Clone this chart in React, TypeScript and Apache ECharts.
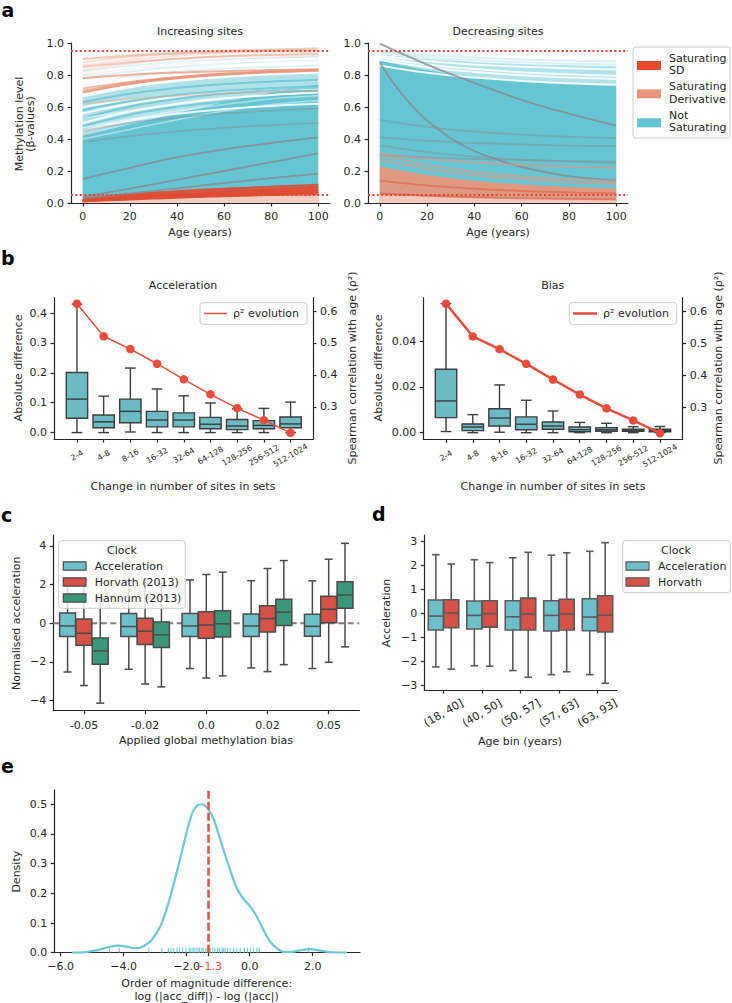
import React, { useEffect, useRef } from "react";
import * as echarts from "echarts";

const FONT = "DejaVu Sans";
const TXT = "#262626";
const AX = "#262626";
const TEAL = "#66c5d3";
const SALMON = "#e8957b";
const RED_SD = "#e5492f";
const GREY = "#8a8a8a";
const RED_LINE = "#e0463a";
const RHO_RED = "#e74c3c";
const BOX_TEAL = "#6cbac4";
const BOX_EDGE = "#3d3d3d";
const C_TEAL = "#6dbfca";
const C_RED = "#d65246";
const C_GREEN = "#3b9779";
const C_EDGE = "#4a4a4a";

// ---------- Panel a ----------
const AGES = [0, 20, 40, 60, 80, 100];
const A_XLIM = [-5, 105];
const A_XTICKS = [0, 20, 40, 60, 80, 100];
const A_YTICKS = [0, 0.2, 0.4, 0.6, 0.8, 1.0];
const THRESHOLDS = [0.05, 0.95];

const INC_FAINT_SALMON = [
  [0.86, 0.896, 0.921, 0.937, 0.948, 0.955],
  [0.83, 0.872, 0.9, 0.919, 0.932, 0.94],
  [0.9, 0.925, 0.941, 0.953, 0.96, 0.965],
  [0.8, 0.842, 0.87, 0.889, 0.902, 0.91],
];
const INC_FAINT_TEAL = [
  [0.78, 0.822, 0.85, 0.869, 0.882, 0.89],
  [0.82, 0.856, 0.881, 0.897, 0.908, 0.915],
  [0.75, 0.792, 0.82, 0.839, 0.852, 0.86],
];
const INC_LIGHT_TOP = [0.66, 0.717, 0.756, 0.781, 0.798, 0.81];
const INC_GAPS = [
  [0.45, 0.515, 0.558, 0.587, 0.607, 0.62],
  [0.5, 0.572, 0.621, 0.654, 0.675, 0.69],
  [0.56, 0.621, 0.662, 0.689, 0.708, 0.72],
  [0.6, 0.644, 0.673, 0.693, 0.706, 0.715],
  [0.75, 0.801, 0.836, 0.859, 0.875, 0.885],
  [0.81, 0.846, 0.871, 0.887, 0.898, 0.905],
];
const INC_TEAL_LINES = [
  [0.48, 0.552, 0.601, 0.634, 0.655, 0.67],
  [0.53, 0.602, 0.651, 0.684, 0.705, 0.72],
  [0.63, 0.683, 0.719, 0.743, 0.759, 0.77],
  [0.58, 0.637, 0.676, 0.701, 0.718, 0.73],
];
const INC_DENSE_TOP = [0.42, 0.49, 0.56, 0.63, 0.69, 0.74];
const INC_LATE_GAPS = [
  [0.4, 0.46, 0.52, 0.575, 0.615, 0.64],
  [0.47, 0.525, 0.575, 0.615, 0.65, 0.67],
  [0.53, 0.575, 0.615, 0.65, 0.675, 0.69],
];
const INC_DERIV = [
  [0.69, 0.743, 0.779, 0.803, 0.819, 0.83],
  [0.7, 0.751, 0.786, 0.809, 0.825, 0.835],
  [0.715, 0.757, 0.785, 0.804, 0.817, 0.825],
  [0.78, 0.801, 0.815, 0.824, 0.831, 0.835],
  [0.85, 0.88, 0.901, 0.915, 0.924, 0.93],
  [0.9, 0.921, 0.935, 0.944, 0.951, 0.955],
  [0.62, 0.65, 0.671, 0.685, 0.694, 0.7],
  [0.88, 0.912, 0.934, 0.949, 0.958, 0.965],
];
const INC_GREY = [
  [0.04, 0.09, 0.145, 0.2, 0.255, 0.31],
  [0.15, 0.22, 0.285, 0.335, 0.375, 0.41],
  [0.03, 0.06, 0.092, 0.124, 0.155, 0.183],
  [0.02, 0.042, 0.062, 0.08, 0.096, 0.11],
  [0.45, 0.5, 0.535, 0.56, 0.578, 0.59],
  [0.38, 0.418, 0.448, 0.47, 0.487, 0.5],
];
const INC_SD_TOP = [0.035, 0.06, 0.08, 0.095, 0.106, 0.115];
const INC_SD_BASE = [0.005, 0.016, 0.027, 0.036, 0.043, 0.048];
const INC_SD = [
  [0.01, 0.035, 0.055, 0.072, 0.087, 0.1],
  [0.015, 0.043, 0.066, 0.086, 0.102, 0.115],
  [0.02, 0.037, 0.051, 0.063, 0.072, 0.08],
  [0.01, 0.026, 0.039, 0.05, 0.058, 0.065],
];

const DEC_FAINT_TEAL = [
  [0.95, 0.925, 0.909, 0.897, 0.89, 0.885],
  [0.94, 0.911, 0.892, 0.879, 0.871, 0.865],
];
const DEC_LIGHT_TOP = [0.93, 0.901, 0.882, 0.869, 0.861, 0.855];
const DEC_GAPS = [
  [0.91, 0.866, 0.837, 0.817, 0.804, 0.795],
  [0.92, 0.888, 0.866, 0.851, 0.842, 0.835],
  [0.895, 0.849, 0.819, 0.798, 0.784, 0.775],
  [0.86, 0.814, 0.784, 0.763, 0.749, 0.74],
];
const DEC_DENSE_TOP = [0.89, 0.829, 0.788, 0.761, 0.742, 0.73];
const DEC_GREY = [
  [0.996, 0.865, 0.75, 0.645, 0.558, 0.483],
  [0.52, 0.476, 0.447, 0.427, 0.414, 0.405],
  [0.36, 0.318, 0.29, 0.271, 0.258, 0.25],
  [0.41, 0.389, 0.375, 0.366, 0.359, 0.355],
  [0.3, 0.285, 0.275, 0.268, 0.263, 0.26],
];
const DEC_STEEP_AGES = [0, 5, 10, 15, 20, 30, 40, 50, 60, 80, 100];
const DEC_STEEP = [0.88, 0.765, 0.67, 0.585, 0.515, 0.405, 0.325, 0.27, 0.225, 0.168, 0.142];
const DEC_DERIV_TOP = [0.23, 0.177, 0.141, 0.117, 0.101, 0.09];
const DEC_DERIV = [
  [0.3, 0.237, 0.195, 0.167, 0.148, 0.135],
  [0.27, 0.213, 0.174, 0.149, 0.132, 0.12],
  [0.31, 0.276, 0.253, 0.237, 0.227, 0.22],
  [0.18, 0.14, 0.113, 0.095, 0.083, 0.075],
];
const DEC_DERIV_BASE = [0.05, 0.039, 0.031, 0.026, 0.022, 0.02];
const DEC_SD = [
  [0.14, 0.11, 0.089, 0.075, 0.066, 0.06],
  [0.06, 0.046, 0.036, 0.029, 0.025, 0.022],
];

// ---------- Panel b ----------
const SET_LABELS = ["2-4", "4-8", "8-16", "16-32", "32-64", "64-128", "128-256", "256-512", "512-1024"];
const SET_TICKS = [0, 1, 2, 3, 4, 5, 6, 7, 8];
const RHO2 = [0.623, 0.521, 0.481, 0.435, 0.386, 0.339, 0.296, 0.258, 0.218];
const B_ACC_YTICKS = [0, 0.1, 0.2, 0.3, 0.4];
const B_BIAS_YTICKS = [0, 0.02, 0.04];
const B_RHO_TICKS = [0.3, 0.4, 0.5, 0.6];
// [min, q1, median, q3, max]
const ACC_DIFF_BOX = [
  [0.0, 0.048, 0.112, 0.201, 0.43],
  [0.0, 0.016, 0.036, 0.059, 0.122],
  [0.002, 0.033, 0.071, 0.112, 0.216],
  [0.0, 0.019, 0.042, 0.071, 0.146],
  [0.0, 0.019, 0.042, 0.066, 0.123],
  [0.0, 0.013, 0.028, 0.051, 0.099],
  [0.0, 0.01, 0.022, 0.044, 0.079],
  [0.0, 0.013, 0.024, 0.04, 0.081],
  [0.0, 0.016, 0.029, 0.052, 0.102],
];
const BIAS_DIFF_BOX = [
  [0.0005, 0.0066, 0.0139, 0.0278, 0.0565],
  [0.0, 0.0009, 0.0025, 0.0038, 0.0079],
  [0.0002, 0.0029, 0.0064, 0.0105, 0.0209],
  [0.0, 0.0013, 0.0037, 0.0069, 0.0142],
  [0.0, 0.0015, 0.0029, 0.0047, 0.0095],
  [0.0, 0.0004, 0.0013, 0.0025, 0.0045],
  [0.0, 0.0006, 0.0013, 0.0022, 0.0041],
  [0.0, 0.0006, 0.0011, 0.0015, 0.0026],
  [0.0, 0.0004, 0.001, 0.0015, 0.0027],
];

// ---------- Panel c ----------
const BIAS_LEVELS = ["-0.05", "-0.02", "0.0", "0.02", "0.05"];
const GROUP_TICKS = [0, 1, 2, 3, 4];
const C_YTICKS = [-4, -2, 0, 2, 4];
const C_ACC = [
  [-2.52, -0.69, -0.14, 0.53, 2.2],
  [-2.38, -0.69, -0.17, 0.5, 2.2],
  [-2.34, -0.69, -0.14, 0.5, 2.24],
  [-2.31, -0.69, -0.14, 0.48, 2.2],
  [-2.34, -0.67, -0.16, 0.47, 2.19],
];
const C_HORVATH = [
  [-3.22, -1.14, -0.52, 0.22, 2.25],
  [-3.14, -1.1, -0.41, 0.26, 2.3],
  [-2.83, -0.78, -0.09, 0.6, 2.52],
  [-2.5, -0.45, 0.24, 0.91, 2.83],
  [-2.02, 0.03, 0.72, 1.4, 3.31],
];
const C_HANNUM = [
  [-4.13, -2.12, -1.43, -0.76, 1.25],
  [-3.29, -1.26, -0.6, 0.07, 2.05],
  [-2.72, -0.71, -0.03, 0.65, 2.64],
  [-2.14, -0.12, 0.57, 1.24, 3.24],
  [-1.22, 0.78, 1.46, 2.14, 4.13],
];

// ---------- Panel d ----------
const AGE_BINS = ["(18, 40]", "(40, 50]", "(50, 57]", "(57, 63]", "(63, 93]"];
const D_YTICKS = [-3, -2, -1, 0, 1, 2, 3];
const D_ACC = [
  [-2.22, -0.68, -0.1, 0.57, 2.46],
  [-2.17, -0.64, -0.07, 0.53, 2.25],
  [-2.37, -0.68, -0.13, 0.54, 2.33],
  [-2.54, -0.72, -0.07, 0.54, 2.44],
  [-2.54, -0.71, -0.14, 0.62, 2.6],
];
const D_HORVATH = [
  [-2.31, -0.58, 0.03, 0.58, 2.07],
  [-2.19, -0.56, 0.0, 0.54, 2.13],
  [-2.65, -0.68, -0.01, 0.65, 2.56],
  [-2.42, -0.68, -0.01, 0.6, 2.54],
  [-2.9, -0.76, -0.06, 0.75, 2.96],
];

// ---------- Panel e ----------
const E_XTICKS = [-6, -4, -2, -1.3, 0, 2];
const E_YTICKS = [0, 0.1, 0.2, 0.3, 0.4, 0.5];
const MEDIAN_DIFF = -1.3;
const KDE_X = [-5.64, -5.28, -4.96, -4.75, -4.43, -4.16, -3.9, -3.63, -3.37, -3.11, -2.84, -2.58, -2.31, -2.1, -1.94, -1.78, -1.57, -1.45, -1.31, -1.15, -0.93, -0.62, -0.41, -0.19, 0.02, 0.23, 0.44, 0.65, 0.86, 1.07, 1.34, 1.6, 1.92, 2.24, 2.56, 3.09];
const KDE_Y = [0, 0.001, 0.006, 0.011, 0.02, 0.024, 0.02, 0.015, 0.022, 0.043, 0.088, 0.166, 0.273, 0.363, 0.43, 0.48, 0.5, 0.498, 0.483, 0.452, 0.379, 0.278, 0.217, 0.18, 0.155, 0.121, 0.076, 0.037, 0.015, 0.003, 0.003, 0.008, 0.012, 0.007, 0.002, 0];
const RUG = [-4.45, -4.14, -3.2, -2.79, -2.58, -2.5, -2.42, -2.31, -2.23, -2.13, -2.02, -1.92, -1.87, -1.8, -1.76, -1.7, -1.64, -1.59, -1.52, -1.47, -1.39, -1.33, -1.25, -1.17, -1.1, -1.02, -0.96, -0.88, -0.83, -0.78, -0.7, -0.62, -0.51, -0.41, -0.3, -0.17, -0.07, 0.02, 0.12, 0.23, 0.3, 1.87];

// ---------- helpers ----------
const minus = (s: string) => s.replace("-", "\u2212");

function vAxis(gridIndex: number, min: number, max: number, ticks: number[], fmt: (v: number) => string, extra: any = {}) {
  const { label = {}, ...rest } = extra;
  return {
    type: "value",
    gridIndex,
    min,
    max,
    axisLine: { show: true, onZero: false, lineStyle: { color: AX, width: 1.2 } },
    axisTick: { show: true, length: 3.5, lineStyle: { color: AX, width: 1.2 }, customValues: ticks },
    axisLabel: { show: true, customValues: ticks, formatter: fmt, color: TXT, fontSize: 11, fontFamily: FONT, margin: 7, ...label },
    splitLine: { show: false },
    ...rest,
  };
}

function curve(xi: number, vals: number[], color: string, opacity: number, width: number, ages: number[] = AGES) {
  return {
    type: "line",
    xAxisIndex: xi,
    yAxisIndex: xi,
    data: ages.map((a, i) => [a, vals[i]]),
    smooth: 0.4,
    symbol: "none",
    silent: true,
    lineStyle: { color, opacity, width },
    z: 2,
  };
}
function area(xi: number, vals: number[], color: string, opacity: number) {
  return {
    ...curve(xi, vals, color, 0, 0),
    lineStyle: { width: 0, opacity: 0 },
    areaStyle: { color, opacity, origin: "start" },
  };
}
function thresh(xi: number) {
  return THRESHOLDS.map((t) => ({
    type: "line",
    xAxisIndex: xi,
    yAxisIndex: xi,
    data: [[A_XLIM[0], t], [A_XLIM[1], t]],
    symbol: "none",
    silent: true,
    lineStyle: { color: RED_LINE, width: 2, type: [2, 2.4] },
    z: 5,
  }));
}

function boxes(xi: number, yi: number, rows: number[][], offset: number, width: number, fill: string, edge: string, lw: number) {
  return {
    type: "custom",
    xAxisIndex: xi,
    yAxisIndex: yi,
    silent: true,
    clip: false,
    z: 3,
    data: rows.map((r, i) => [i + offset, r[0], r[1], r[2], r[3], r[4]]),
    encode: { x: 0, y: [1, 2, 3, 4, 5] },
    renderItem: (params: any, api: any) => {
      const x = api.value(0);
      const p = [1, 2, 3, 4, 5].map((k) => api.coord([x, api.value(k)]));
      const w = api.size([width, 0])[0];
      const cx = p[0][0];
      const cap = w / 4;
      const ls = { stroke: edge, lineWidth: lw, fill: null };
      return {
        type: "group",
        children: [
          { type: "line", shape: { x1: cx, y1: p[0][1], x2: cx, y2: p[1][1] }, style: ls },
          { type: "line", shape: { x1: cx, y1: p[3][1], x2: cx, y2: p[4][1] }, style: ls },
          { type: "line", shape: { x1: cx - cap, y1: p[0][1], x2: cx + cap, y2: p[0][1] }, style: ls },
          { type: "line", shape: { x1: cx - cap, y1: p[4][1], x2: cx + cap, y2: p[4][1] }, style: ls },
          { type: "rect", shape: { x: cx - w / 2, y: p[3][1], width: w, height: p[1][1] - p[3][1] }, style: { fill, stroke: edge, lineWidth: lw } },
          { type: "line", shape: { x1: cx - w / 2, y1: p[2][1], x2: cx + w / 2, y2: p[2][1] }, style: ls },
        ],
      };
    },
  };
}

function T(text: string, x: number, y: number, o: any = {}) {
  return {
    type: "text",
    x,
    y,
    rotation: o.rot ? Math.PI / 2 : 0,
    silent: true,
    z: 100,
    style: {
      text,
      fontSize: o.size || 11,
      fontFamily: FONT,
      fontWeight: o.bold ? "bold" : "normal",
      fill: o.color || TXT,
      align: o.align || "center",
      verticalAlign: "middle",
    },
  };
}
function R(x: number, y: number, w: number, h: number, fill: string, stroke?: string, lw = 1, r = 0) {
  return { type: "rect", silent: true, z: 99, shape: { x, y, width: w, height: h, r }, style: { fill, stroke: stroke || null, lineWidth: lw } };
}
function L(x1: number, y1: number, x2: number, y2: number, color: string, w: number) {
  return { type: "line", silent: true, z: 100, shape: { x1, y1, x2, y2 }, style: { stroke: color, lineWidth: w } };
}

function buildOption() {
  const f1 = (v: number) => v.toFixed(1);
  const f2 = (v: number) => v.toFixed(2);
  const fi = (v: number) => minus(String(v));
  const grids = [
    { left: 71, top: 43, width: 259, height: 160 },
    { left: 368, top: 43, width: 260, height: 160 },
    { left: 54, top: 297.7, width: 259, height: 141.3 },
    { left: 423.3, top: 297.7, width: 259.4, height: 141.6 },
    { left: 53.3, top: 535, width: 306, height: 175.7 },
    { left: 424.3, top: 535, width: 192.4, height: 155 },
    { left: 54.3, top: 790, width: 305.7, height: 162.7 },
  ].map((g) => ({ ...g, containLabel: false, outerBoundsMode: "none" }));

  const setLbl = { fontSize: 8, rotate: 30, align: "center", verticalAlign: "middle", margin: 16.5 };
  const xAxis = [
    vAxis(0, A_XLIM[0], A_XLIM[1], A_XTICKS, (v) => String(v), { label: { margin: 8 } }),
    vAxis(1, A_XLIM[0], A_XLIM[1], A_XTICKS, (v) => String(v), { label: { margin: 8 } }),
    vAxis(2, -0.86, 8.84, SET_TICKS, (v) => SET_LABELS[Math.round(v)], { label: setLbl }),
    vAxis(3, -0.85, 8.85, SET_TICKS, (v) => SET_LABELS[Math.round(v)], { label: setLbl }),
    vAxis(4, -0.5, 4.5, GROUP_TICKS, (v) => BIAS_LEVELS[Math.round(v)], { label: { margin: 9 } }),
    vAxis(5, -0.5, 4.5, GROUP_TICKS, (v) => AGE_BINS[Math.round(v)], { label: { rotate: 30, align: "center", verticalAlign: "middle", margin: 23 } }),
    vAxis(6, -6.2, 3.5, E_XTICKS, (v) => (v === MEDIAN_DIFF ? "{r|" + minus(v.toFixed(1)) + "}" : minus(v.toFixed(1))), {
      label: { margin: 8, rich: { r: { color: RHO_RED, fontSize: 11, fontFamily: FONT } } },
    }),
  ];
  const yAxis = [
    vAxis(0, 0, 1, A_YTICKS, f1),
    vAxis(1, 0, 1, A_YTICKS, f1),
    vAxis(2, -0.0215, 0.4515, B_ACC_YTICKS, f1),
    vAxis(2, 0.199, 0.642, B_RHO_TICKS, f1, { position: "right" }),
    vAxis(3, -0.0029, 0.0591, B_BIAS_YTICKS, f2),
    vAxis(3, 0.199, 0.642, B_RHO_TICKS, f1, { position: "right" }),
    vAxis(4, -4.52, 4.56, C_YTICKS, fi),
    vAxis(5, -3.18, 3.28, D_YTICKS, fi),
    vAxis(6, 0, 0.548, E_YTICKS, f1),
  ];

  const series: any[] = [];
  // a - increasing
  series.push(...INC_FAINT_SALMON.map((v) => curve(0, v, SALMON, 0.25, 2)));
  series.push(...INC_FAINT_TEAL.map((v) => curve(0, v, TEAL, 0.22, 2)));
  series.push(area(0, INC_LIGHT_TOP, TEAL, 0.5));
  series.push(...INC_GAPS.map((v) => curve(0, v, "#ffffff", 0.85, 2)));
  series.push(...INC_TEAL_LINES.map((v) => curve(0, v, TEAL, 0.8, 2)));
  series.push(area(0, INC_DENSE_TOP, TEAL, 1));
  series.push(...INC_LATE_GAPS.map((v) => curve(0, v, "#ffffff", 0.45, 1.5)));
  const dOp = [0.9, 0.8, 0.7, 0.75, 0.5, 0.4, 0.35, 0.3];
  series.push(...INC_DERIV.map((v, i) => curve(0, v, SALMON, dOp[i], 2)));
  series.push(...INC_GREY.map((v, i) => curve(0, v, GREY, i < 4 ? 0.8 : 0.4, 1.8)));
  series.push(area(0, INC_SD_TOP, RED_SD, 0.9));
  series.push(area(0, INC_SD_BASE, "#f6cfc3", 1));
  series.push(...INC_SD.map((v) => curve(0, v, RED_SD, 0.8, 1.8)));
  series.push(...thresh(0));
  // a - decreasing
  series.push(...DEC_FAINT_TEAL.map((v) => curve(1, v, TEAL, 0.25, 2)));
  series.push(area(1, DEC_LIGHT_TOP, TEAL, 0.5));
  series.push(...DEC_GAPS.map((v) => curve(1, v, "#ffffff", 0.85, 2)));
  series.push(area(1, DEC_DENSE_TOP, TEAL, 1));
  series.push(...DEC_GREY.map((v, i) => curve(1, v, GREY, i < 1 ? 0.8 : 0.4, 1.8)));
  series.push(curve(1, DEC_STEEP, GREY, 0.8, 1.8, DEC_STEEP_AGES));
  series.push(area(1, DEC_DERIV_TOP, SALMON, 0.92));
  series.push(...DEC_DERIV.map((v) => curve(1, v, SALMON, 0.6, 2)));
  series.push(area(1, DEC_DERIV_BASE, "#f4c9ba", 1));
  series.push(...DEC_SD.map((v) => curve(1, v, RED_SD, 0.45, 1.8)));
  series.push(...thresh(1));

  // b
  series.push(boxes(2, 2, ACC_DIFF_BOX, 0, 0.8, BOX_TEAL, BOX_EDGE, 1.4));
  series.push({
    type: "line", xAxisIndex: 2, yAxisIndex: 3, data: RHO2.map((v, i) => [i, v]), symbol: "circle", symbolSize: 8.5,
    lineStyle: { color: RHO_RED, width: 1.5 }, itemStyle: { color: RHO_RED }, z: 10, silent: true, clip: false,
  });
  series.push(boxes(3, 4, BIAS_DIFF_BOX, 0, 0.8, BOX_TEAL, BOX_EDGE, 1.4));
  series.push({
    type: "line", xAxisIndex: 3, yAxisIndex: 5, data: RHO2.map((v, i) => [i, v]), symbol: "circle", symbolSize: 8.5,
    lineStyle: { color: RHO_RED, width: 2.5 }, itemStyle: { color: RHO_RED }, z: 10, silent: true, clip: false,
  });

  // c
  series.push({
    type: "line", xAxisIndex: 4, yAxisIndex: 6, data: [[-0.5, 0], [4.5, 0]], symbol: "none", silent: true, z: 1,
    lineStyle: { color: "#808080", width: 1.8, type: [6, 3.5] },
  });
  series.push(boxes(4, 6, C_ACC, -0.2667, 0.26, C_TEAL, C_EDGE, 1.5));
  series.push(boxes(4, 6, C_HORVATH, 0, 0.26, C_RED, C_EDGE, 1.5));
  series.push(boxes(4, 6, C_HANNUM, 0.2667, 0.26, C_GREEN, C_EDGE, 1.5));

  // d
  series.push(boxes(5, 7, D_ACC, -0.2, 0.392, C_TEAL, "#5a5a5a", 1.6));
  series.push(boxes(5, 7, D_HORVATH, 0.2, 0.392, C_RED, "#5a5a5a", 1.6));

  // e
  series.push({
    type: "line", xAxisIndex: 6, yAxisIndex: 8, data: KDE_X.map((x, i) => [x, KDE_Y[i]]), smooth: 0.3, symbol: "none",
    silent: true, z: 3, lineStyle: { color: "#6cc8d4", width: 2.2 },
    markLine: {
      silent: true, symbol: ["none", "none"], data: [{ xAxis: MEDIAN_DIFF }], label: { show: false },
      lineStyle: { color: RHO_RED, width: 2.5, type: [8, 3] },
    },
  });
  series.push({
    type: "scatter", xAxisIndex: 6, yAxisIndex: 8, data: RUG.map((v) => [v, 0]), symbol: "rect", symbolSize: [1.2, 5],
    symbolOffset: [0, -2.5], itemStyle: { color: "#6cc8d4", opacity: 0.9 }, silent: true, clip: false, z: 4,
  });

  const graphic: any[] = [
    // letters
    T("a", 1.5, 10, { size: 19, bold: true, align: "left", color: "#000" }),
    T("b", 1, 258, { size: 19, bold: true, align: "left", color: "#000" }),
    T("c", 1, 515, { size: 19, bold: true, align: "left", color: "#000" }),
    T("d", 372, 514, { size: 19, bold: true, align: "left", color: "#000" }),
    T("e", 1, 766, { size: 19, bold: true, align: "left", color: "#000" }),
    // a
    T("Increasing sites", 200, 31.7),
    T("Decreasing sites", 498, 31.7),
    T("Methylation level", 19.5, 124, { rot: true }),
    T("(\u03b2-values)", 30.5, 124, { rot: true }),
    T("Age (years)", 200, 232),
    T("Age (years)", 498, 232),
    R(633, 47, 97, 91, "rgba(255,255,255,0.85)", "#cccccc", 1, 3),
    R(637, 61, 24, 9, RED_SD),
    R(637, 89.3, 24, 9, SALMON),
    R(637, 118.3, 24, 9, TEAL),
    T("Saturating", 669, 58.3, { align: "left" }),
    T("SD", 669, 70.5, { align: "left" }),
    T("Saturating", 669, 86.7, { align: "left" }),
    T("Derivative", 669, 99, { align: "left" }),
    T("Not", 669, 115, { align: "left" }),
    T("Saturating", 669, 127.7, { align: "left" }),
    // b
    T("Acceleration", 183, 285),
    T("Bias", 552.7, 285),
    T("Absolute difference", 18, 368, { rot: true }),
    T("Absolute difference", 378, 368, { rot: true }),
    T("Spearman correlation with age (\u03c1\u00b2)", 352, 368, { rot: true }),
    T("Spearman correlation with age (\u03c1\u00b2)", 718, 368, { rot: true }),
    T("Change in number of sites in sets", 183, 486.7),
    T("Change in number of sites in sets", 553, 486.7),
    R(200, 302.7, 107, 21.6, "rgba(255,255,255,0.85)", "#cccccc", 1, 3),
    L(204, 313.5, 227, 313.5, RHO_RED, 1.5),
    T("\u03c1\u00b2 evolution", 233, 313.5, { align: "left" }),
    R(569.3, 302.7, 107.4, 21.6, "rgba(255,255,255,0.85)", "#cccccc", 1, 3),
    L(573, 313.5, 597, 313.5, RHO_RED, 2.5),
    T("\u03c1\u00b2 evolution", 603, 313.5, { align: "left" }),
    // c
    T("Normalised acceleration", 16.7, 623.3, { rot: true }),
    T("Applied global methylation bias", 206, 740.7),
    R(58.7, 540.7, 126.6, 67.6, "rgba(255,255,255,0.8)", "#cccccc", 1, 3),
    T("Clock", 122, 550),
    R(63.3, 561.8, 22.7, 8.4, C_TEAL, C_EDGE, 1.2),
    R(63.3, 577.8, 22.7, 8.4, C_RED, C_EDGE, 1.2),
    R(63.3, 593.8, 22.7, 8.4, C_GREEN, C_EDGE, 1.2),
    T("Acceleration", 94.7, 566, { align: "left" }),
    T("Horvath (2013)", 94.7, 582, { align: "left" }),
    T("Hannum (2013)", 94.7, 598, { align: "left" }),
    // d
    T("Acceleration", 386.7, 613, { rot: true }),
    T("Age bin (years)", 520, 741.7),
    R(622.7, 540.7, 107.6, 52, "rgba(255,255,255,0.8)", "#cccccc", 1, 3),
    T("Clock", 676, 550),
    R(626, 561.8, 23, 8.4, C_TEAL, "#5a5a5a", 1.2),
    R(626, 577.8, 23, 8.4, C_RED, "#5a5a5a", 1.2),
    T("Acceleration", 658, 566, { align: "left" }),
    T("Horvath", 658, 582, { align: "left" }),
    // e
    T("Density", 16.7, 871.7, { rot: true }),
    T("Order of magnitude difference:", 206.7, 983.3),
    T("log (|acc_diff|) - log (|acc|)", 206.7, 996.5),
  ];

  return {
    animation: false,
    backgroundColor: "#ffffff",
    textStyle: { fontFamily: FONT },
    grid: grids,
    xAxis,
    yAxis,
    series,
    graphic,
  };
}

export default function App() {
  const ref = useRef<HTMLDivElement>(null);
  useEffect(() => {
    const chart = echarts.init(ref.current as HTMLDivElement, null, { renderer: "svg" });
    chart.setOption(buildOption() as any);
    return () => chart.dispose();
  }, []);
  return <div ref={ref} style={{ position: "absolute", left: 0, top: 0, width: 732, height: 1003, background: "#fff" }} />;
}
